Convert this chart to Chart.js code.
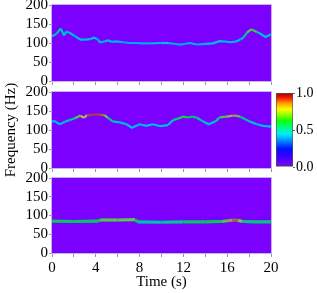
<!DOCTYPE html>
<html>
<head>
<meta charset="utf-8">
<script src="https://cdn.jsdelivr.net/npm/chart.js@4.4.1/dist/chart.umd.min.js"></script>
<style>
  html, body { margin: 0; padding: 0; background: #fff; overflow: hidden; }
  body { width: 317px; height: 293px; position: relative; }
  canvas { position: absolute; }
</style>
</head>
<body>
<canvas id="panel1" width="317" height="96" style="left:0;top:-5px;width:317px;height:96px"></canvas>
<canvas id="panel2" width="317" height="96" style="left:0;top:82px;width:317px;height:96px"></canvas>
<canvas id="panel3" width="317" height="125" style="left:0;top:168px;width:317px;height:125px"></canvas>
<canvas id="colorbar" width="47" height="100" style="left:270px;top:80px;width:47px;height:100px"></canvas>
<script>
// Dải tần số theo thời gian cho từng khung (s, Hz, cường độ 0-1)
const time1 = [0, 0.4, 0.8, 1.1, 1.3, 1.6, 2.1, 2.6, 3.0, 3.5, 3.8, 4.1, 4.4, 4.8, 5.1, 5.5, 5.9, 6.5, 7.1, 7.7, 8.3, 9.0, 9.9, 10.6, 11.1, 11.7, 12.2, 12.6, 13.2, 13.8, 14.7, 15.3, 15.8, 16.3, 16.8, 17.2, 17.5, 17.8, 18.2, 18.7, 19.0, 19.5, 20];
const freq1 = [118, 124, 138, 120, 130, 127, 118, 109, 109, 110, 114, 111, 102, 104, 107, 103, 104, 102, 100, 100, 99, 99, 100, 100, 98, 96, 98, 100, 96, 97, 99, 105, 104, 102, 104, 109, 115, 127, 136, 129, 125, 116, 123];
const level1 = [0.5, 0.5, 0.55, 0.45, 0.5, 0.5, 0.45, 0.45, 0.45, 0.45, 0.5, 0.45, 0.42, 0.45, 0.45, 0.42, 0.45, 0.42, 0.42, 0.42, 0.42, 0.42, 0.45, 0.45, 0.42, 0.42, 0.42, 0.45, 0.42, 0.42, 0.45, 0.5, 0.45, 0.45, 0.45, 0.5, 0.5, 0.6, 0.8, 0.55, 0.5, 0.45, 0.5];

const time2 = [0, 0.2, 0.7, 1.2, 1.6, 2.1, 2.6, 2.9, 3.2, 3.6, 4.1, 4.5, 4.8, 5.1, 5.6, 6.2, 6.8, 7.3, 8.0, 8.6, 9.2, 9.9, 10.6, 11.05, 11.5, 12.0, 12.4, 12.8, 13.2, 13.7, 14.3, 14.9, 15.3, 15.95, 16.5, 16.9, 17.2, 17.6, 18.1, 18.7, 19.3, 20];
const freq2 = [122, 124, 115, 122, 126, 131, 138, 132, 139, 140, 141, 140, 139, 132, 122, 120, 115, 106, 115, 111, 115, 110, 113, 126, 130, 135, 133, 135, 133, 124, 115, 122, 133, 135, 138, 137, 135, 129, 122, 115, 111, 109];
const level2 = [0.45, 0.45, 0.45, 0.5, 0.5, 0.55, 0.85, 0.7, 0.9, 0.92, 0.92, 0.9, 0.85, 0.6, 0.5, 0.5, 0.45, 0.45, 0.45, 0.45, 0.45, 0.45, 0.45, 0.5, 0.6, 0.7, 0.6, 0.65, 0.55, 0.5, 0.45, 0.5, 0.6, 0.75, 0.88, 0.8, 0.6, 0.55, 0.5, 0.45, 0.45, 0.45];

const time3 = [0, 2, 4.2, 4.4, 6, 7.6, 7.8, 10, 12, 14, 15.5, 16.1, 16.5, 17, 17.4, 18.5, 20];
const freq3 = [85, 84, 85, 88, 88, 89, 83, 82, 83, 83, 84, 86, 88, 87, 84, 83, 83];
const level3 = [0.62, 0.6, 0.6, 0.68, 0.7, 0.7, 0.55, 0.5, 0.6, 0.6, 0.62, 0.75, 0.92, 0.85, 0.6, 0.55, 0.6];

// Nhãn trục
const freqTicks = [0, 50, 100, 150, 200];
const timeLabels = [0, 4, 8, 12, 16, 20];
const colorbarTicks = [0, 0.5, 1];

const serif = { family: "'Liberation Serif', 'Times New Roman', serif", size: 15 };

// Bảng màu (giá trị -> rgb)
const cmapStops = [
  [0.00, [0, 0, 0]],
  [0.03, [122, 0, 255]],
  [0.15, [50, 0, 255]],
  [0.25, [0, 20, 255]],
  [0.38, [0, 170, 255]],
  [0.45, [0, 240, 240]],
  [0.55, [0, 255, 110]],
  [0.63, [20, 255, 0]],
  [0.72, [170, 255, 0]],
  [0.78, [255, 250, 0]],
  [0.86, [255, 160, 0]],
  [0.93, [255, 30, 0]],
  [1.00, [150, 0, 0]]
];

function cmap(v) {
  v = Math.max(0, Math.min(1, v));
  for (let i = 1; i < cmapStops.length; i++) {
    const [v1, c1] = cmapStops[i];
    const [v0, c0] = cmapStops[i - 1];
    if (v <= v1) {
      const t = (v - v0) / (v1 - v0);
      const c = c0.map((x, k) => Math.round(x + (c1[k] - x) * t));
      return `rgb(${c[0]},${c[1]},${c[2]})`;
    }
  }
  return 'rgb(150,0,0)';
}

// Nền tím + khung cho vùng vẽ
const panelFrame = {
  id: 'panelFrame',
  beforeDatasetsDraw(chart) {
    const a = chart.chartArea, ctx = chart.ctx;
    ctx.save();
    ctx.fillStyle = '#7c00ff';
    ctx.fillRect(a.left, a.top, a.width, a.height);
    ctx.restore();
  },
  afterDraw(chart) {
    const a = chart.chartArea, ctx = chart.ctx;
    ctx.save();
    ctx.strokeStyle = '#c4b3f2';
    ctx.lineWidth = 1;
    ctx.strokeRect(a.left - 0.5, a.top - 0.5, a.width + 1, a.height + 1);
    ctx.restore();
  }
};

function makePanel(id, times, freqs, levels, opts) {
  const points = times.map((t, i) => ({ x: t, y: freqs[i] }));
  const xScale = {
    type: 'linear', min: 0, max: 20,
    ticks: {
      display: opts.showTime, stepSize: 2, autoSkip: false, maxRotation: 0,
      padding: 2, color: '#000', font: serif,
      callback: v => timeLabels.includes(v) ? String(v) : ''
    },
    grid: { drawOnChartArea: false, tickLength: 4, color: '#999' },
    border: { display: false },
    title: {
      display: opts.showTime, text: 'Time (s)', color: '#000', font: serif,
      padding: { top: 0, bottom: 2 }
    },
    afterFit(scale) { scale.height = opts.xHeight; }
  };
  const yScale = {
    type: 'linear', min: 0, max: 200,
    afterBuildTicks(scale) { scale.ticks = freqTicks.map(v => ({ value: v })); },
    ticks: { autoSkip: false, padding: 1, color: '#000', font: serif },
    grid: { drawOnChartArea: false, tickLength: 3, color: '#999' },
    border: { display: false },
    title: {
      display: opts.showFreq, text: 'Frequency (Hz)', color: '#000', font: serif,
      padding: { top: 2, bottom: 0 }
    },
    afterFit(scale) { scale.width = 52; }
  };
  return new Chart(document.getElementById(id), {
    type: 'line',
    data: {
      datasets: [
        {
          data: points, borderColor: 'rgba(20,50,255,0.3)', borderWidth: opts.halo,
          pointRadius: 0, tension: 0
        },
        {
          data: points, borderWidth: opts.core, pointRadius: 0, tension: 0,
          borderColor: cmap(levels[0]),
          segment: {
            borderColor: ctx => cmap((levels[ctx.p0DataIndex] + levels[ctx.p1DataIndex]) / 2)
          }
        }
      ]
    },
    options: {
      responsive: false, animation: false,
      layout: { padding: { left: 0, right: 46, top: 10, bottom: 0 } },
      plugins: { legend: { display: false }, tooltip: { enabled: false } },
      scales: { x: xScale, y: yScale }
    },
    plugins: [panelFrame]
  });
}

makePanel('panel1', time1, freq1, level1, { showTime: false, showFreq: false, xHeight: 10, halo: 3.5, core: 2.2 });
makePanel('panel2', time2, freq2, level2, { showTime: false, showFreq: true, xHeight: 10, halo: 3.5, core: 2.2 });
makePanel('panel3', time3, freq3, level3, { showTime: true, showFreq: false, xHeight: 40, halo: 4.5, core: 3.2 });

// Thanh màu
new Chart(document.getElementById('colorbar'), {
  type: 'bar',
  data: {
    labels: [''],
    datasets: [{
      data: [1],
      backgroundColor(ctx) {
        const a = ctx.chart.chartArea;
        if (!a) return '#7c00ff';
        const g = ctx.chart.ctx.createLinearGradient(0, a.bottom, 0, a.top);
        cmapStops.forEach(([v]) => g.addColorStop(v, cmap(v)));
        return g;
      },
      borderColor: '#555', borderWidth: 1, borderSkipped: false,
      barPercentage: 1, categoryPercentage: 1
    }]
  },
  options: {
    responsive: false, animation: false,
    layout: { padding: { left: 6, right: 0, top: 13, bottom: 13 } },
    plugins: { legend: { display: false }, tooltip: { enabled: false } },
    scales: {
      x: { display: false },
      y: {
        position: 'right', min: 0, max: 1,
        afterBuildTicks(scale) { scale.ticks = colorbarTicks.map(v => ({ value: v })); },
        ticks: { autoSkip: false, padding: 1, color: '#000', font: { family: serif.family, size: 14 }, callback: v => v.toFixed(1) },
        grid: { drawOnChartArea: false, tickLength: 2, color: '#666' },
        border: { display: false },
        afterFit(scale) { scale.width = 24; }
      }
    }
  }
});
</script>
</body>
</html>
